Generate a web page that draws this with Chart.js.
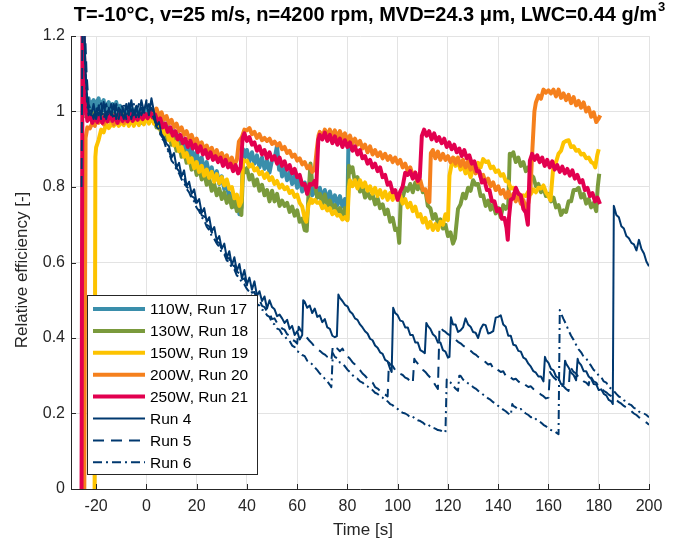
<!DOCTYPE html>
<html lang="en">
<head>
<meta charset="UTF-8">
<title>Relative efficiency</title>
<style>
  body { margin: 0; background: #fff; }
  #wrap { width: 677px; height: 547px; }
</style>
</head>
<body>
<div id="wrap"><canvas id="effChart" width="677" height="547"></canvas></div>

<script src="https://cdn.jsdelivr.net/npm/chart.js"></script>
<script>
// [time s, relative efficiency]
const run17 = [[-24.5,0.99],[-24,1.025],[-23.5,1.01],[-23,1.035],[-22.5,1.005],[-22,1.02],[-21,1.03],[-20.5,1.0],[-20,1.02],[-19,1.035],[-18.5,1.005],[-18,1.02],[-17,1.03],[-16.5,1.0],[-16,1.015],[-15,1.025],[-14,1.0],[-13.5,1.02],[-13,0.995],[-12,1.025],[-11,0.995],[-10.5,1.015],[-10,1.0],[-9,0.985],[-8,1.01],[-7,0.985],[-6,1.01],[-5,0.985],[-4,1.01],[-3,0.98],[-2,1.005],[-1,0.985],[0,1.01],[1,0.985],[2,1.005],[3,0.98],[4,0.995],[5,0.965],[6,0.982],[7,0.95],[8,0.968],[9,0.935],[10,0.956],[11,0.925],[12,0.944],[13,0.91],[14,0.932],[15,0.898],[16,0.918],[17,0.884],[18,0.902],[19,0.87],[20,0.893],[21,0.858],[22,0.878],[23,0.845],[24,0.866],[25,0.834],[26,0.852],[27,0.818],[28,0.842],[29,0.808],[30,0.828],[31,0.794],[32,0.804],[33,0.772],[34,0.784],[35,0.748],[36,0.77],[37,0.728],[37.8,0.745],[38.5,0.9],[39,0.878],[40,0.898],[41,0.868],[42,0.892],[43,0.862],[44,0.884],[45,0.852],[46,0.878],[47,0.848],[48,0.87],[49,0.838],[50,0.872],[51,0.874],[52,0.91],[52.8,0.846],[53.5,0.852],[54,0.828],[55,0.848],[56,0.818],[57,0.838],[58,0.808],[59,0.83],[60,0.798],[61,0.822],[62,0.788],[63,0.812],[64,0.782],[65,0.808],[66,0.778],[67,0.802],[68,0.772],[69,0.798],[70,0.768],[71,0.792],[72,0.762],[73,0.788],[74,0.758],[75,0.778],[76,0.752],[77,0.776],[78,0.748],[79,0.768],[80,0.74],[80.4,0.92],[81,0.9],[82,0.918]];

const run18 = [[-24,0.982],[-23.5,1.002],[-23,0.985],[-22,1.0],[-21.5,0.975],[-21,0.995],[-20,0.972],[-19.5,0.994],[-19,0.975],[-18,0.996],[-17,0.972],[-16.5,0.992],[-16,0.976],[-15,0.998],[-14,0.97],[-13,0.994],[-12,0.975],[-11,0.99],[-10,0.97],[-9,0.994],[-8,0.975],[-7,0.995],[-6,0.97],[-5,0.99],[-4,0.974],[-3,0.994],[-2,0.97],[-1,0.993],[0,0.975],[1,0.994],[2,0.976],[3,0.985],[4,0.958],[5,0.968],[6,0.94],[7,0.956],[8,0.926],[9,0.942],[10,0.912],[11,0.928],[12,0.896],[13,0.914],[14,0.88],[15,0.896],[16,0.864],[17,0.882],[18,0.846],[19,0.866],[20,0.832],[21,0.852],[22,0.82],[23,0.838],[24,0.806],[25,0.822],[26,0.79],[27,0.808],[28,0.778],[29,0.796],[30,0.768],[31,0.786],[32,0.758],[33,0.776],[34,0.746],[35,0.766],[36,0.736],[37,0.75],[37.8,0.726],[38.5,0.85],[39,0.838],[40,0.85],[41,0.82],[42,0.832],[43,0.804],[44,0.82],[45,0.79],[46,0.806],[47,0.778],[48,0.792],[49,0.762],[50,0.79],[51,0.762],[52,0.782],[53,0.75],[54,0.764],[55,0.75],[56,0.758],[57,0.734],[58,0.748],[59,0.724],[60,0.738],[61,0.708],[62,0.716],[63,0.686],[63.8,0.684],[64.5,0.78],[65.3,0.862],[66,0.81],[67,0.808],[68,0.772],[69,0.782],[70,0.756],[71,0.78],[72,0.748],[73,0.764],[74,0.744],[75,0.752],[76,0.734],[77,0.744],[78,0.72],[79,0.744],[80,0.714],[80.6,0.856],[81,0.838],[82,0.852],[83,0.812],[84,0.826],[85,0.788],[86,0.802],[87,0.772],[88,0.786],[89,0.77],[90,0.78],[91,0.754],[92,0.77],[93,0.744],[94,0.754],[95,0.728],[96,0.74],[97,0.708],[98,0.718],[99,0.686],[100,0.69],[100.6,0.652],[101.2,0.765],[102,0.772],[103,0.798],[104,0.79],[105,0.808],[106,0.786],[107,0.812],[108,0.794],[109,0.81],[110,0.786],[111,0.792],[112,0.75],[113,0.744],[114,0.716],[115,0.728],[116,0.704],[117,0.714],[118,0.69],[119,0.7],[120,0.67],[121,0.68],[122,0.65],[122.8,0.664],[124,0.742],[125,0.754],[126,0.782],[127,0.77],[128,0.798],[129,0.79],[130,0.818],[131,0.806],[132,0.808],[133,0.776],[134,0.778],[135,0.75],[136,0.764],[137,0.74],[138,0.754],[139,0.73],[140,0.744],[141,0.72],[142,0.752],[143,0.742],[144,0.752],[144.6,0.888],[145,0.882],[146,0.892],[147,0.866],[148,0.878],[149,0.856],[150,0.866],[151,0.842],[152,0.852],[153,0.832],[154,0.826],[155,0.802],[156,0.808],[157,0.786],[158,0.798],[159,0.776],[160,0.782],[161,0.762],[162,0.772],[163,0.746],[164,0.752],[165,0.726],[166,0.738],[167,0.734],[168,0.762],[169,0.762],[170,0.792],[171,0.792],[172,0.798],[173,0.772],[174,0.782],[175,0.756],[176,0.768],[177,0.746],[178,0.758],[179,0.736],[179.6,0.8],[180.2,0.835]];

const run19 = [[-20.6,0],[-20.3,0.88],[-20,0.905],[-19,0.925],[-18,0.952],[-17,0.945],[-16,0.968],[-15,0.956],[-14,0.966],[-13,0.962],[-12,0.972],[-11,0.962],[-10,0.972],[-9,0.964],[-8,0.98],[-7,0.962],[-6,0.982],[-5,0.962],[-4,0.98],[-3,0.964],[-2,0.986],[-1,0.966],[0,0.986],[1,0.968],[2,0.99],[3,0.968],[4,0.98],[5,0.955],[6,0.966],[7,0.94],[8,0.95],[9,0.924],[10,0.936],[11,0.91],[12,0.92],[13,0.895],[14,0.906],[15,0.88],[16,0.89],[17,0.865],[18,0.876],[19,0.85],[20,0.866],[21,0.84],[22,0.856],[23,0.83],[24,0.846],[25,0.824],[26,0.84],[27,0.814],[28,0.834],[29,0.81],[30,0.826],[31,0.804],[32,0.82],[33,0.795],[34,0.8],[35,0.77],[36,0.78],[37,0.75],[37.8,0.762],[38.5,0.872],[39,0.868],[40,0.87],[41,0.854],[42,0.86],[43,0.844],[44,0.85],[45,0.834],[46,0.84],[47,0.824],[48,0.836],[49,0.818],[50,0.826],[51,0.808],[52,0.816],[53,0.798],[54,0.806],[55,0.794],[56,0.8],[57,0.784],[58,0.79],[59,0.774],[60,0.78],[61,0.758],[62,0.748],[63,0.716],[63.6,0.708],[64.5,0.752],[65.5,0.768],[66,0.758],[67,0.766],[68,0.758],[69,0.76],[70,0.744],[71,0.75],[72,0.738],[73,0.744],[74,0.728],[75,0.736],[76,0.724],[77,0.726],[78,0.714],[79,0.72],[80,0.712],[80.6,0.8],[81,0.818],[82,0.802],[83,0.818],[84,0.796],[85,0.818],[86,0.8],[87,0.812],[88,0.79],[89,0.802],[90,0.782],[91,0.798],[92,0.776],[93,0.792],[94,0.772],[95,0.788],[96,0.766],[97,0.784],[98,0.766],[99,0.784],[100,0.766],[101,0.778],[102,0.756],[103,0.768],[104,0.746],[105,0.758],[106,0.736],[107,0.748],[108,0.722],[109,0.728],[110,0.706],[111,0.718],[112,0.692],[113,0.708],[114,0.686],[115,0.702],[116,0.686],[117,0.708],[118,0.7],[119,0.728],[120,0.712],[120.6,0.83],[121.5,0.862],[122.5,0.876],[123,0.856],[124,0.868],[125,0.846],[126,0.858],[127,0.836],[128,0.848],[129,0.826],[130,0.848],[131,0.842],[132,0.864],[133,0.852],[134,0.874],[135,0.866],[136,0.868],[137,0.85],[138,0.854],[139,0.84],[140,0.844],[141,0.83],[142,0.834],[143,0.816],[144,0.814],[145,0.796],[146,0.798],[147,0.786],[148,0.784],[149,0.77],[150,0.778],[151,0.776],[152,0.788],[153,0.782],[154,0.794],[155,0.786],[156,0.798],[157,0.796],[158,0.804],[159,0.786],[160,0.776],[160.8,0.765],[161.8,0.845],[163,0.866],[164,0.888],[165,0.896],[166,0.918],[167,0.922],[168,0.924],[169,0.906],[170,0.908],[171,0.896],[172,0.898],[173,0.886],[174,0.888],[175,0.876],[176,0.878],[177,0.866],[178,0.862],[178.6,0.852],[179.4,0.884],[180,0.9]];

const run20 = [[-24.7,0],[-24.2,0.93],[-23.5,0.958],[-22.5,0.955],[-21.5,0.97],[-20.5,0.962],[-20,0.976],[-19,0.97],[-18,0.976],[-17,0.966],[-16,0.978],[-15,0.974],[-14,0.982],[-13,0.966],[-12,0.984],[-11,0.97],[-10,0.986],[-9,0.97],[-8,0.988],[-7,0.978],[-6,0.984],[-5,0.978],[-4,0.986],[-3,0.98],[-2,0.99],[-1,0.984],[0,0.992],[1,0.986],[2,1.0],[3,0.994],[4,1.008],[5,0.988],[6,0.998],[7,0.978],[8,0.988],[9,0.968],[10,0.978],[11,0.958],[12,0.968],[13,0.948],[14,0.958],[15,0.938],[16,0.948],[17,0.928],[18,0.938],[19,0.918],[20,0.928],[21,0.908],[22,0.918],[23,0.898],[24,0.91],[25,0.892],[26,0.904],[27,0.884],[28,0.898],[29,0.876],[30,0.89],[31,0.872],[32,0.884],[33,0.862],[34,0.878],[35,0.858],[36,0.872],[36.8,0.92],[38,0.932],[39,0.952],[40,0.95],[41,0.956],[42,0.94],[43,0.946],[44,0.93],[45,0.94],[46,0.924],[47,0.93],[48,0.922],[49,0.928],[50,0.914],[51,0.92],[52,0.91],[53,0.916],[54,0.9],[55,0.906],[56,0.89],[57,0.896],[58,0.88],[59,0.886],[60,0.87],[61,0.876],[62,0.86],[63,0.866],[64,0.85],[65,0.856],[66,0.84],[67,0.848],[67.8,0.9],[68.5,0.936],[69,0.946],[70,0.932],[71,0.952],[72,0.936],[73,0.952],[74,0.934],[75,0.95],[76,0.932],[77,0.948],[78,0.928],[79,0.942],[80,0.922],[81,0.936],[82,0.916],[83,0.928],[84,0.912],[85,0.922],[86,0.902],[87,0.912],[88,0.892],[89,0.908],[90,0.886],[91,0.898],[92,0.882],[93,0.892],[94,0.876],[95,0.888],[96,0.872],[97,0.882],[98,0.866],[99,0.878],[100,0.862],[101,0.872],[102,0.852],[103,0.862],[104,0.842],[105,0.852],[106,0.83],[107,0.838],[108,0.812],[109,0.818],[110,0.792],[111,0.794],[112,0.764],[112.6,0.76],[113.2,0.89],[114,0.898],[115,0.876],[116,0.894],[117,0.872],[118,0.888],[119,0.872],[120,0.882],[121,0.866],[122,0.878],[123,0.862],[124,0.878],[125,0.856],[126,0.872],[127,0.852],[128,0.868],[129,0.846],[130,0.858],[131,0.836],[132,0.848],[133,0.826],[134,0.832],[135,0.812],[136,0.822],[137,0.802],[138,0.812],[139,0.792],[140,0.802],[141,0.782],[142,0.792],[143,0.772],[144,0.788],[145,0.766],[146,0.782],[147,0.762],[148,0.778],[149,0.756],[150,0.766],[151,0.742],[152,0.758],[152.8,0.79],[153.6,0.9],[154.4,1.0],[155,1.024],[156,1.042],[157,1.034],[158,1.058],[159,1.05],[160,1.056],[161,1.048],[162,1.058],[163,1.04],[164,1.058],[165,1.036],[166,1.048],[167,1.03],[168,1.044],[169,1.022],[170,1.038],[171,1.016],[172,1.028],[173,1.01],[174,1.024],[175,1.0],[176,1.01],[177,0.986],[178,0.998],[179,0.972],[180,0.982],[180.6,0.99]];

const run21 = [[-25.8,0],[-25.4,1.3],[-24.8,1.15],[-24.2,1.02],[-23.5,0.975],[-22.5,0.99],[-21.5,0.97],[-20.5,0.99],[-19.5,0.972],[-18.5,0.99],[-17.5,0.97],[-16.5,0.99],[-15.5,0.974],[-14.5,0.995],[-13.5,0.975],[-12.5,0.99],[-11.5,0.97],[-10.5,0.994],[-9.5,0.975],[-8.5,0.99],[-7.5,0.974],[-6.5,0.995],[-5.5,0.975],[-4.5,0.99],[-3.5,0.978],[-2.5,0.995],[-1.5,0.98],[-0.5,0.994],[0.5,0.982],[1.5,1.0],[2.5,0.984],[3.5,0.992],[4.5,0.972],[5.5,0.982],[6.5,0.958],[7.5,0.968],[8.5,0.946],[9.5,0.958],[10.5,0.936],[11.5,0.948],[12.5,0.926],[13.5,0.938],[14.5,0.916],[15.5,0.928],[16.5,0.906],[17.5,0.922],[18.5,0.902],[19.5,0.912],[20.5,0.892],[21.5,0.908],[22.5,0.886],[23.5,0.898],[24.5,0.876],[25.5,0.892],[26.5,0.872],[27.5,0.882],[28.5,0.866],[29.5,0.878],[30.5,0.856],[31.5,0.872],[32.5,0.852],[33.5,0.862],[34.5,0.842],[35.5,0.858],[36.5,0.836],[37.5,0.852],[38.3,0.93],[39,0.942],[40,0.922],[41,0.932],[42,0.912],[43,0.918],[44,0.896],[45,0.908],[46,0.886],[47,0.898],[48,0.876],[49,0.892],[50,0.872],[51,0.882],[52,0.862],[53,0.878],[54,0.856],[55,0.868],[56,0.846],[57,0.858],[58,0.836],[59,0.848],[60,0.826],[61,0.832],[62,0.806],[63,0.808],[64,0.782],[65,0.808],[66,0.806],[67,0.816],[67.6,0.8],[68.4,0.925],[69,0.938],[70,0.926],[71,0.944],[72,0.922],[73,0.938],[74,0.916],[75,0.934],[76,0.912],[77,0.928],[78,0.906],[79,0.924],[80,0.906],[81,0.918],[82,0.896],[83,0.908],[84,0.886],[85,0.898],[86,0.876],[87,0.882],[88,0.862],[89,0.872],[90,0.852],[91,0.862],[92,0.842],[93,0.852],[94,0.826],[95,0.832],[96,0.806],[97,0.812],[98,0.786],[99,0.792],[100,0.766],[101,0.788],[102,0.802],[103,0.838],[104,0.832],[105,0.842],[106,0.822],[107,0.838],[108,0.816],[108.8,0.826],[109.6,0.935],[110.5,0.952],[111.5,0.936],[112.5,0.948],[113.5,0.926],[114.5,0.942],[115.5,0.922],[116.5,0.932],[117.5,0.916],[118.5,0.928],[119.5,0.906],[120.5,0.918],[121.5,0.9],[122.5,0.912],[123.5,0.892],[124.5,0.902],[125.5,0.882],[126.5,0.898],[127.5,0.876],[128.5,0.884],[129.5,0.862],[130.5,0.868],[131.5,0.842],[132.5,0.842],[133.5,0.812],[134.5,0.818],[135.5,0.792],[136.5,0.792],[137.5,0.762],[138.5,0.762],[139.5,0.736],[140.5,0.742],[141.5,0.716],[142.5,0.718],[143.3,0.692],[143.8,0.66],[144.3,0.72],[145,0.766],[146,0.77],[147,0.798],[148,0.782],[149,0.778],[150,0.742],[151,0.732],[151.8,0.7],[152.6,0.87],[153.5,0.888],[154.5,0.872],[155.5,0.884],[156.5,0.866],[157.5,0.878],[158.5,0.856],[159.5,0.872],[160.5,0.852],[161.5,0.868],[162.5,0.846],[163.5,0.858],[164.5,0.84],[165.5,0.854],[166.5,0.836],[167.5,0.848],[168.5,0.83],[169.5,0.844],[170.5,0.822],[171.5,0.832],[172.5,0.812],[173.5,0.818],[174.5,0.792],[175.5,0.798],[176.5,0.776],[177.5,0.784],[178.5,0.762],[179.5,0.772],[180.5,0.755]];

const run4 = [[-26,1.35],[-25,1.28],[-24.2,1.1],[-23.5,1.03],[-23,1.0],[-22,0.99],[-21,1.02],[-20,0.98],[-19,1.015],[-18,0.99],[-17,1.025],[-16,0.98],[-15,1.01],[-14,0.99],[-13,1.02],[-12,0.98],[-11,1.01],[-10,1.0],[-9,0.98],[-8,1.02],[-7,0.99],[-6,1.03],[-5,0.99],[-4,1.015],[-3,0.985],[-2,1.03],[-1,1.0],[0,1.025],[1,0.99],[2,1.035],[3,1.0],[4,0.962],[5,0.972],[6,0.94],[7,0.93],[8,0.915],[9,0.908],[10,0.878],[11,0.89],[12,0.852],[13,0.864],[14,0.828],[15,0.844],[16,0.802],[17,0.814],[18,0.782],[19,0.794],[20,0.758],[21,0.768],[22,0.732],[23,0.744],[24,0.708],[25,0.72],[26,0.682],[27,0.694],[28,0.658],[29,0.67],[30,0.636],[31,0.65],[32,0.612],[33,0.63],[34,0.592],[35,0.614],[36,0.578],[37,0.596],[38,0.558],[39,0.58],[40,0.542],[41,0.56],[42,0.528],[43,0.55],[44,0.512],[45,0.524],[46,0.498],[47,0.51],[48,0.478],[49,0.5],[50,0.482],[51,0.476],[52,0.458],[53,0.462],[54,0.452],[55,0.44],[56,0.448],[57,0.424],[58,0.432],[59,0.408],[60,0.418],[61,0.396],[62,0.408],[62.4,0.5],[63,0.496],[64,0.48],[65,0.486],[66,0.466],[67,0.478],[68,0.456],[69,0.46],[70,0.442],[71,0.45],[72,0.428],[73,0.424],[74,0.406],[75,0.402],[75.8,0.405],[76.4,0.515],[77,0.506],[78,0.498],[79,0.488],[80,0.484],[81,0.47],[82,0.464],[83,0.452],[84,0.448],[85,0.436],[86,0.428],[87,0.418],[88,0.412],[89,0.398],[90,0.394],[91,0.38],[92,0.374],[93,0.362],[94,0.358],[95,0.342],[96,0.338],[97,0.318],[97.6,0.31],[98.2,0.48],[99,0.466],[100,0.46],[101,0.446],[102,0.444],[103,0.428],[104,0.428],[105,0.408],[106,0.408],[107,0.388],[108,0.388],[109,0.368],[110,0.364],[110.8,0.36],[111.4,0.44],[112,0.432],[113,0.424],[114,0.41],[115,0.404],[116,0.388],[117,0.388],[118,0.368],[119,0.364],[120,0.348],[120.6,0.35],[121.2,0.455],[122,0.436],[123,0.436],[124,0.416],[125,0.42],[126,0.428],[127,0.452],[128,0.436],[129,0.43],[130,0.416],[131,0.414],[132,0.4],[133,0.424],[134,0.436],[135,0.434],[136,0.412],[137,0.414],[138,0.418],[139,0.454],[140,0.456],[141,0.46],[142,0.436],[143,0.43],[144,0.406],[145,0.406],[146,0.382],[147,0.38],[148,0.366],[149,0.364],[150,0.348],[151,0.344],[152,0.332],[153,0.324],[154,0.312],[155,0.308],[156,0.298],[157,0.298],[158,0.285],[158.6,0.35],[159,0.342],[160,0.334],[161,0.318],[162,0.314],[163,0.298],[164,0.294],[165,0.278],[166,0.276],[166.6,0.34],[167,0.332],[168,0.322],[169,0.308],[170,0.302],[171,0.288],[171.6,0.345],[172,0.336],[173,0.328],[174,0.312],[175,0.312],[176,0.298],[177,0.292],[178,0.278],[179,0.277],[180,0.262],[181,0.264],[182,0.252],[183,0.248],[184,0.236],[185,0.232],[185.6,0.225],[186,0.75],[187,0.726],[188,0.72],[189,0.696],[190,0.69],[191,0.67],[192,0.664],[193,0.652],[194,0.648],[195,0.632],[196,0.66],[197,0.636],[198,0.624],[199,0.602],[200,0.59]];

const run5 = [[-25.8,0.8],[-25.4,1.3],[-24.6,1.25],[-23.8,1.1],[-23,1.02],[-22,1.0],[-21,0.98],[-20,1.012],[-19,0.99],[-18,1.022],[-17,0.982],[-16,1.0],[-15,0.99],[-14,1.02],[-13,0.99],[-12,1.012],[-11,0.98],[-10,1.02],[-9,1.0],[-8,0.99],[-7,1.022],[-6,0.98],[-5,1.01],[-4,1.0],[-3,1.02],[-2,0.99],[-1,1.01],[0,1.0],[1,1.02],[2,1.0],[3,0.98],[4,0.965],[5,0.952],[6,0.935],[7,0.926],[8,0.905],[9,0.896],[10,0.875],[11,0.872],[12,0.85],[13,0.842],[14,0.825],[15,0.822],[16,0.8],[17,0.796],[18,0.775],[19,0.772],[20,0.75],[21,0.746],[22,0.725],[23,0.722],[24,0.7],[25,0.696],[26,0.68],[27,0.672],[28,0.655],[29,0.652],[30,0.635],[31,0.632],[32,0.61],[33,0.612],[34,0.59],[35,0.592],[36,0.575],[37,0.572],[38,0.555],[39,0.558],[40,0.54],[41,0.536],[42,0.52],[43,0.522],[44,0.5],[45,0.502],[46,0.485],[47,0.482],[48,0.47],[49,0.466],[50,0.45],[51,0.452],[52,0.44],[53,0.436],[54,0.425],[55,0.422],[56,0.41],[57,0.406],[58,0.395],[59,0.392],[60,0.385],[60.6,0.43],[61,0.425],[62,0.415],[63,0.406],[64,0.4],[65,0.392],[66,0.385],[67,0.376],[68,0.37],[69,0.366],[70,0.36],[71,0.356],[72,0.35],[73,0.346],[73.6,0.34],[74.2,0.38],[75,0.375],[76,0.372],[77,0.365],[78,0.372],[79,0.36],[80,0.352],[81,0.345],[82,0.336],[83,0.33],[84,0.322],[85,0.315],[86,0.306],[87,0.3],[88,0.292],[89,0.285],[90,0.282],[91,0.27],[92,0.266],[93,0.26],[94,0.252],[95,0.25],[96,0.245],[96.5,0.335],[97,0.33],[98,0.326],[99,0.315],[100,0.312],[101,0.305],[102,0.302],[103,0.295],[104,0.292],[105,0.285],[106,0.28],[106.6,0.345],[107,0.34],[108,0.332],[109,0.325],[110,0.316],[111,0.31],[112,0.302],[113,0.295],[114,0.286],[115,0.275],[116,0.265],[116.6,0.42],[117,0.43],[118,0.42],[119,0.416],[120,0.41],[121,0.406],[122,0.4],[123,0.396],[124,0.39],[125,0.386],[126,0.38],[127,0.376],[128,0.37],[129,0.366],[130,0.36],[131,0.356],[132,0.35],[133,0.346],[134,0.34],[135,0.336],[136,0.33],[137,0.332],[138,0.32],[139,0.322],[140,0.315],[141,0.31],[142,0.312],[143,0.3],[144,0.302],[145,0.295],[146,0.29],[147,0.292],[148,0.285],[149,0.28],[150,0.282],[151,0.275],[152,0.27],[153,0.272],[154,0.265],[155,0.26],[156,0.256],[157,0.25],[158,0.246],[159,0.24],[160,0.242],[160.6,0.31],[161,0.305],[162,0.296],[163,0.29],[164,0.282],[165,0.275],[166,0.272],[167,0.265],[168,0.26],[168.6,0.325],[169,0.32],[170,0.31],[171,0.306],[172,0.295],[173,0.292],[174,0.285],[175,0.282],[176,0.275],[176.6,0.3],[177,0.296],[178,0.285],[179,0.282],[180,0.27],[181,0.266],[182,0.26],[183,0.256],[184,0.25],[185,0.246],[186,0.24],[187,0.236],[188,0.23],[189,0.226],[190,0.22],[191,0.216],[192,0.21],[193,0.206],[194,0.2],[195,0.196],[196,0.19],[197,0.186],[198,0.18],[199,0.176],[200,0.17]];

const run6 = [[-26,1.4],[-25,1.3],[-24.3,1.12],[-23.6,1.02],[-23,0.99],[-22,1.01],[-21,0.99],[-20,1.0],[-19,1.02],[-18,0.98],[-17,1.0],[-16,1.02],[-15,0.99],[-14,1.0],[-13,0.98],[-12,1.02],[-11,1.0],[-10,0.99],[-9,1.02],[-8,0.98],[-7,1.01],[-6,1.0],[-5,1.02],[-4,0.98],[-3,1.0],[-2,1.01],[-1,0.99],[0,1.03],[1,1.0],[2,1.01],[3,0.99],[4,0.96],[5,0.952],[6,0.93],[7,0.922],[8,0.9],[9,0.892],[10,0.87],[11,0.862],[12,0.845],[13,0.836],[14,0.82],[15,0.812],[16,0.795],[17,0.786],[18,0.77],[19,0.762],[20,0.745],[21,0.736],[22,0.72],[23,0.712],[24,0.695],[25,0.686],[26,0.67],[27,0.662],[28,0.65],[29,0.642],[30,0.625],[31,0.622],[32,0.605],[33,0.602],[34,0.585],[35,0.582],[36,0.565],[37,0.562],[38,0.545],[39,0.542],[40,0.53],[41,0.522],[42,0.51],[43,0.506],[44,0.49],[45,0.486],[46,0.475],[47,0.472],[48,0.46],[49,0.456],[50,0.44],[51,0.436],[52,0.425],[53,0.422],[54,0.41],[55,0.406],[56,0.395],[57,0.392],[58,0.38],[59,0.376],[60,0.365],[61,0.362],[62,0.355],[63,0.352],[64,0.34],[65,0.336],[66,0.33],[67,0.322],[68,0.315],[69,0.306],[70,0.3],[71,0.292],[72,0.285],[73,0.276],[73.6,0.27],[74.2,0.36],[75,0.35],[76,0.346],[77,0.335],[78,0.332],[79,0.325],[80,0.316],[81,0.31],[82,0.302],[83,0.295],[84,0.292],[85,0.285],[86,0.282],[87,0.275],[88,0.272],[89,0.265],[90,0.262],[91,0.255],[92,0.252],[93,0.245],[94,0.242],[95,0.235],[96,0.232],[97,0.225],[98,0.222],[99,0.215],[100,0.212],[101,0.205],[102,0.202],[103,0.2],[104,0.196],[105,0.19],[106,0.192],[107,0.185],[108,0.182],[109,0.18],[110,0.176],[111,0.17],[112,0.172],[113,0.165],[114,0.162],[115,0.16],[116,0.156],[117,0.155],[118,0.152],[119,0.15],[119.5,0.29],[120,0.285],[121,0.282],[122,0.275],[123,0.266],[124,0.26],[124.5,0.3],[125,0.3],[126,0.29],[127,0.286],[128,0.28],[129,0.276],[130,0.27],[131,0.266],[132,0.26],[133,0.256],[134,0.25],[135,0.246],[136,0.24],[137,0.236],[138,0.23],[139,0.226],[140,0.22],[141,0.216],[142,0.21],[143,0.206],[144,0.2],[145,0.196],[145.6,0.225],[146,0.22],[147,0.216],[148,0.21],[149,0.212],[150,0.205],[151,0.2],[152,0.196],[153,0.19],[154,0.192],[155,0.185],[156,0.18],[157,0.176],[158,0.17],[159,0.166],[160,0.16],[161,0.156],[162,0.155],[163,0.15],[164,0.145],[164.5,0.474],[165,0.465],[166,0.45],[167,0.436],[168,0.42],[169,0.406],[170,0.395],[171,0.382],[172,0.37],[173,0.362],[174,0.35],[175,0.346],[176,0.335],[177,0.326],[178,0.315],[179,0.312],[180,0.3],[181,0.296],[182,0.285],[183,0.282],[184,0.27],[185,0.266],[186,0.26],[187,0.252],[188,0.245],[189,0.242],[190,0.235],[191,0.232],[192,0.225],[193,0.222],[194,0.215],[195,0.212],[196,0.205],[197,0.202],[198,0.2],[199,0.196],[200,0.19]];

const seriesLabels = ['110W, Run 17', '130W, Run 18', '150W, Run 19', '200W, Run 20', '250W, Run 21', 'Run 4', 'Run 5', 'Run 6'];
const seriesData = [run17, run18, run19, run20, run21, run4, run5, run6];
const seriesColors = ['#3a8eab', '#7a9a3c', '#fdc300', '#f5801d', '#e2004f', '#00386f', '#00386f', '#00386f'];
const seriesWidths = [4, 4, 4, 4, 4, 2, 2, 2];
const seriesDash = [[], [], [], [], [], [], [11, 7], [9, 4, 2, 4]];

const xTicks = [-20, 0, 20, 40, 60, 80, 100, 120, 140, 160, 180, 200];
const yTicks = [0, 0.2, 0.4, 0.6, 0.8, 1, 1.2];
const yTickLabels = ['0', '0.2', '0.4', '0.6', '0.8', '1', '1.2'];

const titleText = 'T=-10°C, v=25 m/s, n=4200 rpm, MVD=24.3 μm, LWC=0.44 g/m';
const titleSup = '3';
const xTitle = 'Time [s]';
const yTitle = 'Relative efficiency [-]';

const FONT = '"Liberation Sans", Arial, Helvetica, sans-serif';
const INK = '#262626';
Chart.defaults.font.family = FONT;

// titles, inward ticks and the boxed legend
const overlay = {
    id: 'overlay',
    afterDraw(chart) {
        const ctx = chart.ctx;
        const a = chart.chartArea;
        const xs = chart.scales.x, ys = chart.scales.y;
        ctx.save();

        ctx.strokeStyle = INK;
        ctx.lineWidth = 1;
        ctx.beginPath();
        xTicks.forEach(v => {
            const px = Math.round(xs.getPixelForValue(v)) + 0.5;
            ctx.moveTo(px, a.bottom); ctx.lineTo(px, a.bottom - 5);
        });
        yTicks.forEach(v => {
            const py = Math.round(ys.getPixelForValue(v)) + 0.5;
            ctx.moveTo(a.left, py); ctx.lineTo(a.left + 5, py);
        });
        ctx.stroke();

        // legend box
        const lx = 87, ly = 295, lw = 170, lh = 179;
        ctx.fillStyle = '#fff';
        ctx.fillRect(lx, ly, lw, lh);
        ctx.strokeStyle = INK;
        ctx.strokeRect(lx + 0.5, ly + 0.5, lw, lh);
        ctx.font = '15.5px ' + FONT;
        ctx.textBaseline = 'middle';
        ctx.textAlign = 'left';
        seriesLabels.forEach((lab, i) => {
            const y = 309 + i * 21.9;
            ctx.beginPath();
            ctx.setLineDash(seriesDash[i]);
            ctx.strokeStyle = seriesColors[i];
            ctx.lineWidth = seriesWidths[i];
            ctx.moveTo(93, y); ctx.lineTo(145, y);
            ctx.stroke();
            ctx.setLineDash([]);
            ctx.fillStyle = '#000';
            ctx.fillText(lab, 150, y + 1);
        });

        // chart title with superscript
        ctx.fillStyle = '#000';
        ctx.textBaseline = 'alphabetic';
        ctx.font = 'bold 20px ' + FONT;
        const w1 = ctx.measureText(titleText).width;
        ctx.font = 'bold 13px ' + FONT;
        const w2 = ctx.measureText(titleSup).width;
        const tx = 369 - (w1 + w2) / 2;
        ctx.font = 'bold 20px ' + FONT;
        ctx.fillText(titleText, tx, 21);
        ctx.font = 'bold 13px ' + FONT;
        ctx.fillText(titleSup, tx + w1 + 1, 11);

        // axis titles
        ctx.fillStyle = INK;
        ctx.font = '17px ' + FONT;
        ctx.textAlign = 'center';
        ctx.textBaseline = 'middle';
        ctx.fillText(xTitle, (a.left + a.right) / 2 + 3, 530);
        ctx.translate(22, 270);
        ctx.rotate(-Math.PI / 2);
        ctx.fillText(yTitle, 0, 0);
        ctx.restore();
    }
};

const ctx = document.getElementById('effChart').getContext('2d');
const effChart = new Chart(ctx, {
    type: 'line',
    data: {
        datasets: seriesData.map((d, i) => ({
            label: seriesLabels[i],
            data: d.map(p => ({ x: p[0], y: p[1] })),
            borderColor: seriesColors[i],
            borderWidth: seriesWidths[i],
            borderDash: seriesDash[i],
            borderJoinStyle: 'round',
            pointRadius: 0,
            fill: false,
            tension: 0,
            clip: 0,
            order: seriesData.length - i
        }))
    },
    options: {
        responsive: false,
        animation: false,
        devicePixelRatio: 1,
        layout: { padding: { left: 0, top: 36, right: 28, bottom: 0 } },
        plugins: { legend: { display: false }, tooltip: { enabled: false } },
        scales: {
            x: {
                type: 'linear',
                min: -30,
                max: 200,
                afterBuildTicks: s => { s.ticks = xTicks.map(v => ({ value: v })); },
                afterFit: s => { s.height = 58; },
                ticks: { color: INK, font: { size: 16 }, padding: 8, maxRotation: 0, autoSkip: false,
                         callback: v => String(v) },
                grid: { color: '#e3e3e3', drawTicks: false },
                border: { color: INK, width: 1 }
            },
            y: {
                min: 0,
                max: 1.2,
                afterBuildTicks: s => { s.ticks = yTicks.map(v => ({ value: v })); },
                afterFit: s => { s.width = 71; },
                ticks: { color: INK, font: { size: 16 }, padding: 6, autoSkip: false,
                         callback: (v, i) => yTickLabels[i] },
                grid: { color: '#e3e3e3', drawTicks: false },
                border: { color: INK, width: 1 }
            }
        }
    },
    plugins: [overlay]
});
</script>
</body>
</html>
